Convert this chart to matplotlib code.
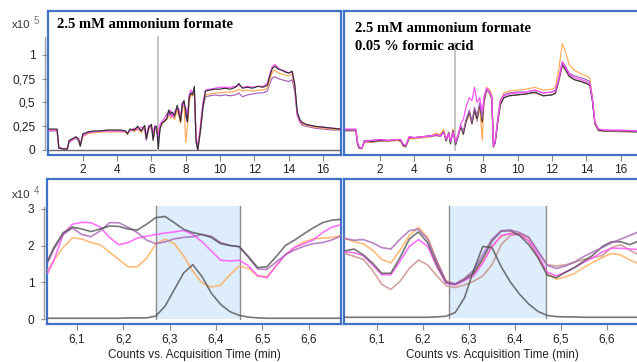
import matplotlib
matplotlib.use("Agg")
import matplotlib.pyplot as plt
from matplotlib.transforms import blended_transform_factory

# ---------------- data ----------------
# Top-left: 2.5 mM ammonium formate, TIC (x10^5 counts) vs time (min)
t_top_l = [0.0, 0.3, 0.5, 0.6, 0.9, 1.1, 1.2, 1.4, 1.6, 1.75,
           1.85, 2.0, 2.3, 2.6, 3.0, 3.4, 3.8, 4.2, 4.5, 4.6,
           4.75, 5.0, 5.2, 5.4, 5.6, 5.7, 5.85, 6.0, 6.1, 6.2,
           6.3, 6.4, 6.5, 6.6, 6.75, 6.9, 7.0, 7.1, 7.2, 7.35,
           7.5, 7.6, 7.7, 7.8, 7.9, 8.0, 8.1, 8.2, 8.3, 8.4,
           8.5, 8.6, 8.7, 8.85, 9.0, 9.15, 9.4, 9.7, 10.0, 10.3,
           10.6, 10.9, 11.1, 11.3, 11.6, 11.9, 12.2, 12.5, 12.75, 12.9,
           13.05, 13.2, 13.4, 13.6, 13.8, 14.0, 14.2, 14.35, 14.5, 14.65,
           14.8, 15.0, 15.5, 16.0, 16.5, 17.0]
tl_black = [0.22, 0.22, 0.22, 0.02, 0.01, 0.01, 0.10, 0.12, 0.14, 0.11,
            0.04, 0.17, 0.19, 0.20, 0.20, 0.21, 0.21, 0.21, 0.20, 0.17,
            0.22, 0.21, 0.25, 0.20, 0.26, 0.12, 0.24, 0.27, 0.10, 0.24,
            0.25, 0.01, 0.22, 0.28, 0.30, 0.33, 0.42, 0.38, 0.40, 0.36,
            0.47, 0.38, 0.30, 0.48, 0.52, 0.40, 0.30, 0.55, 0.60, 0.58,
            0.67, 0.10, 0.00, 0.20, 0.45, 0.62, 0.63, 0.64, 0.64, 0.65,
            0.64, 0.66, 0.70, 0.65, 0.66, 0.65, 0.67, 0.66, 0.68, 0.78,
            0.86, 0.88, 0.85, 0.84, 0.82, 0.81, 0.83, 0.70, 0.40, 0.32,
            0.29, 0.27, 0.25, 0.24, 0.23, 0.22]
tl_magenta = [0.21, 0.21, 0.21, 0.03, 0.01, 0.02, 0.08, 0.11, 0.13, 0.12,
              0.06, 0.15, 0.18, 0.19, 0.20, 0.20, 0.20, 0.20, 0.19, 0.18,
              0.20, 0.23, 0.21, 0.24, 0.22, 0.16, 0.26, 0.22, 0.18, 0.26,
              0.20, 0.15, 0.27, 0.30, 0.33, 0.38, 0.36, 0.42, 0.35, 0.40,
              0.45, 0.43, 0.35, 0.50, 0.47, 0.45, 0.35, 0.58, 0.63, 0.60,
              0.64, 0.15, 0.02, 0.25, 0.50, 0.63, 0.64, 0.65, 0.66, 0.66,
              0.66, 0.67, 0.68, 0.66, 0.67, 0.66, 0.67, 0.67, 0.70, 0.80,
              0.88, 0.90, 0.86, 0.84, 0.83, 0.81, 0.82, 0.68, 0.38, 0.30,
              0.28, 0.27, 0.25, 0.24, 0.23, 0.22]
tl_orange = [0.21, 0.21, 0.21, 0.02, 0.01, 0.01, 0.09, 0.10, 0.13, 0.11,
             0.05, 0.14, 0.17, 0.18, 0.19, 0.19, 0.19, 0.19, 0.19, 0.16,
             0.21, 0.19, 0.23, 0.18, 0.25, 0.14, 0.22, 0.25, 0.15, 0.21,
             0.23, 0.18, 0.24, 0.27, 0.30, 0.32, 0.37, 0.33, 0.36, 0.32,
             0.42, 0.36, 0.28, 0.44, 0.48, 0.08, 0.25, 0.50, 0.58, 0.57,
             0.62, 0.12, 0.01, 0.22, 0.48, 0.58, 0.59, 0.60, 0.60, 0.61,
             0.61, 0.62, 0.64, 0.62, 0.63, 0.62, 0.63, 0.63, 0.65, 0.74,
             0.82, 0.84, 0.81, 0.80, 0.79, 0.78, 0.80, 0.66, 0.38, 0.30,
             0.27, 0.26, 0.24, 0.23, 0.22, 0.21]
tl_purple = [0.20, 0.20, 0.20, 0.02, 0.01, 0.01, 0.09, 0.11, 0.12, 0.10,
             0.04, 0.15, 0.18, 0.19, 0.19, 0.20, 0.20, 0.20, 0.19, 0.17,
             0.21, 0.20, 0.24, 0.19, 0.23, 0.10, 0.23, 0.24, 0.12, 0.22,
             0.22, 0.10, 0.23, 0.27, 0.31, 0.33, 0.40, 0.36, 0.38, 0.34,
             0.44, 0.38, 0.30, 0.46, 0.50, 0.35, 0.28, 0.55, 0.58, 0.57,
             0.63, 0.08, 0.00, 0.18, 0.44, 0.56, 0.57, 0.58, 0.57, 0.58,
             0.57, 0.58, 0.60, 0.56, 0.58, 0.59, 0.60, 0.60, 0.62, 0.70,
             0.76, 0.77, 0.75, 0.74, 0.73, 0.72, 0.74, 0.62, 0.36, 0.29,
             0.26, 0.25, 0.23, 0.22, 0.21, 0.21]

# Top-right: 2.5 mM ammonium formate + 0.05 % formic acid
t_top_r = [0.0, 0.6, 0.7, 0.8, 0.95, 1.1, 1.5, 2.0, 2.5, 3.0,
           3.2, 3.35, 3.5, 3.7, 4.0, 4.5, 5.0, 5.3, 5.5, 5.7,
           5.85, 6.0, 6.1, 6.25, 6.4, 6.55, 6.7, 6.85, 7.0, 7.2,
           7.35, 7.5, 7.65, 7.8, 7.95, 8.05, 8.2, 8.35, 8.5, 8.6,
           8.7, 8.85, 9.0, 9.2, 9.5, 10.0, 10.5, 11.0, 11.5, 12.0,
           12.2, 12.4, 12.6, 12.75, 13.0, 13.3, 13.7, 14.0, 14.2, 14.35,
           14.5, 14.7, 15.0, 16.0, 17.0]
tr_black = [0.21, 0.21, 0.06, 0.02, 0.02, 0.10, 0.09, 0.10, 0.10, 0.11,
            0.10, 0.05, 0.04, 0.13, 0.13, 0.14, 0.15, 0.16, 0.15, 0.19,
            0.10, 0.18, 0.07, 0.20, 0.06, 0.15, 0.25, 0.17, 0.30, 0.40,
            0.28, 0.42, 0.33, 0.48, 0.30, 0.52, 0.64, 0.62, 0.55, 0.04,
            0.08, 0.30, 0.48, 0.55, 0.57, 0.58, 0.59, 0.61, 0.57, 0.58,
            0.60, 0.74, 0.90, 0.86, 0.78, 0.74, 0.72, 0.70, 0.68, 0.52,
            0.28, 0.21, 0.20, 0.20, 0.19]
tr_magenta = [0.22, 0.22, 0.08, 0.03, 0.02, 0.09, 0.10, 0.11, 0.10, 0.11,
              0.11, 0.06, 0.05, 0.14, 0.13, 0.14, 0.15, 0.16, 0.15, 0.18,
              0.12, 0.17, 0.10, 0.18, 0.09, 0.16, 0.28, 0.32, 0.45, 0.55,
              0.52, 0.66, 0.50, 0.55, 0.40, 0.56, 0.65, 0.62, 0.56, 0.05,
              0.10, 0.32, 0.52, 0.57, 0.59, 0.60, 0.61, 0.63, 0.60, 0.61,
              0.62, 0.75, 0.92, 0.88, 0.80, 0.76, 0.74, 0.72, 0.70, 0.54,
              0.29, 0.22, 0.21, 0.21, 0.20]
tr_orange = [0.21, 0.21, 0.06, 0.02, 0.02, 0.09, 0.09, 0.10, 0.10, 0.10,
             0.10, 0.06, 0.04, 0.12, 0.12, 0.13, 0.15, 0.18, 0.16, 0.22,
             0.12, 0.17, 0.09, 0.22, 0.08, 0.17, 0.24, 0.20, 0.30, 0.38,
             0.30, 0.40, 0.34, 0.46, 0.10, 0.50, 0.66, 0.64, 0.58, 0.05,
             0.09, 0.32, 0.52, 0.60, 0.62, 0.63, 0.64, 0.66, 0.63, 0.64,
             0.66, 0.85, 1.12, 1.05, 0.90, 0.84, 0.80, 0.78, 0.76, 0.56,
             0.28, 0.21, 0.20, 0.20, 0.20]
tr_purple = [0.21, 0.21, 0.07, 0.03, 0.02, 0.10, 0.10, 0.11, 0.10, 0.11,
             0.11, 0.06, 0.05, 0.14, 0.13, 0.14, 0.15, 0.16, 0.14, 0.19,
             0.11, 0.18, 0.08, 0.19, 0.07, 0.16, 0.26, 0.19, 0.32, 0.42,
             0.30, 0.45, 0.36, 0.50, 0.33, 0.55, 0.64, 0.62, 0.56, 0.03,
             0.08, 0.33, 0.52, 0.58, 0.60, 0.61, 0.61, 0.63, 0.60, 0.61,
             0.63, 0.76, 0.93, 0.89, 0.81, 0.78, 0.76, 0.74, 0.72, 0.55,
             0.29, 0.22, 0.21, 0.20, 0.20]
tr_brown = [0.20, 0.20, 0.05, 0.02, 0.01, 0.08, 0.08, 0.09, 0.09, 0.10,
            0.09, 0.04, 0.03, 0.12, 0.12, 0.13, 0.14, 0.15, 0.14, 0.20,
            0.09, 0.19, 0.06, 0.21, 0.05, 0.14, 0.24, 0.16, 0.28, 0.38,
            0.27, 0.40, 0.30, 0.45, 0.28, 0.50, 0.62, 0.60, 0.53, 0.03,
            0.07, 0.28, 0.47, 0.55, 0.57, 0.58, 0.59, 0.60, 0.57, 0.58,
            0.59, 0.72, 0.88, 0.85, 0.77, 0.74, 0.72, 0.70, 0.68, 0.52,
            0.27, 0.20, 0.20, 0.19, 0.19]

# Bottom-left: zoom 6.04-6.67 min (x10^4 counts)
t_bot_l = [6.037, 6.05, 6.07, 6.09, 6.11, 6.13, 6.15, 6.17, 6.19, 6.21,
           6.23, 6.25, 6.27, 6.29, 6.31, 6.33, 6.35, 6.37, 6.39, 6.41,
           6.43, 6.45, 6.47, 6.49, 6.51, 6.53, 6.55, 6.57, 6.59, 6.61,
           6.63, 6.65, 6.668]
bl_black = [1.60, 1.95, 2.35, 2.50, 2.45, 2.38, 2.45, 2.53, 2.52, 2.45,
            2.42, 2.58, 2.76, 2.79, 2.62, 2.44, 2.35, 2.30, 2.22, 2.05,
            2.00, 1.97, 1.70, 1.40, 1.42, 1.70, 2.00, 2.15, 2.32, 2.48,
            2.62, 2.69, 2.71]
bl_purple = [1.55, 1.90, 2.30, 2.48, 2.30, 2.24, 2.40, 2.62, 2.62, 2.50,
             2.35, 2.15, 2.05, 2.10, 2.18, 2.22, 2.24, 2.30, 2.25, 2.08,
             2.00, 1.97, 1.68, 1.36, 1.35, 1.55, 1.75, 1.88, 1.98, 2.05,
             2.08, 2.15, 2.25]
bl_magenta = [1.26, 1.60, 2.30, 2.58, 2.63, 2.62, 2.50, 2.22, 2.02, 2.08,
              2.20, 2.25, 2.30, 2.34, 2.37, 2.41, 2.30, 2.10, 1.85, 1.60,
              1.58, 1.60, 1.45, 1.18, 1.12, 1.45, 1.75, 1.95, 2.05, 2.15,
              2.35, 2.50, 2.56]
bl_orange = [1.33, 1.60, 1.95, 2.21, 2.18, 2.08, 2.02, 1.82, 1.62, 1.42,
             1.42, 1.65, 2.05, 2.17, 2.05, 1.72, 1.30, 0.98, 0.87, 0.92,
             1.20, 1.44, 1.38, 1.17, 1.15, 1.45, 1.75, 1.95, 2.10, 2.18,
             2.20, 2.22, 2.26]
bl_eic = [0.02, 0.02, 0.02, 0.02, 0.02, 0.02, 0.02, 0.02, 0.02, 0.03,
          0.03, 0.03, 0.08, 0.35, 0.80, 1.25, 1.48, 1.15, 0.70, 0.40,
          0.20, 0.10, 0.05, 0.03, 0.02, 0.02, 0.02, 0.02, 0.02, 0.02,
          0.02, 0.02, 0.02]

# Bottom-right: zoom 6.03-6.67 min (x10^4 counts)
t_bot_r = [6.03, 6.05, 6.07, 6.09, 6.11, 6.13, 6.15, 6.17, 6.19, 6.21,
           6.23, 6.25, 6.27, 6.29, 6.31, 6.33, 6.35, 6.37, 6.39, 6.41,
           6.43, 6.45, 6.47, 6.49, 6.51, 6.53, 6.55, 6.57, 6.59, 6.61,
           6.63, 6.65, 6.665]
br_purple = [2.17, 2.12, 2.14, 2.05, 1.92, 1.88, 2.15, 2.38, 2.42, 2.15,
             1.55, 1.00, 0.93, 1.08, 1.30, 1.72, 2.15, 2.38, 2.40, 2.33,
             2.20, 1.82, 1.44, 1.35, 1.42, 1.53, 1.68, 1.80, 1.92, 2.05,
             2.15, 2.25, 2.33]
br_orange = [2.17, 2.08, 2.02, 1.85, 1.60, 1.50, 1.85, 2.25, 2.47, 2.20,
             1.55, 1.02, 0.92, 1.05, 1.22, 1.55, 1.95, 2.22, 2.31, 2.30,
             2.10, 1.65, 1.22, 1.06, 1.12, 1.22, 1.38, 1.52, 1.65, 1.76,
             1.72, 1.58, 1.50]
br_black = [1.83, 1.88, 1.72, 1.50, 1.22, 1.22, 1.65, 2.15, 2.35, 2.05,
            1.45, 0.97, 0.92, 1.05, 1.22, 1.62, 2.10, 2.37, 2.38, 2.25,
            2.00, 1.65, 1.17, 1.10, 1.25, 1.38, 1.55, 1.72, 1.95, 2.08,
            2.08, 2.00, 2.08]
br_magenta = [1.80, 1.78, 1.70, 1.45, 1.18, 1.18, 1.55, 1.95, 2.14, 1.95,
              1.40, 0.95, 0.90, 1.02, 1.15, 1.50, 1.95, 2.25, 2.30, 2.27,
              2.10, 1.72, 1.25, 1.15, 1.25, 1.38, 1.52, 1.65, 1.80, 1.90,
              1.90, 1.88, 1.87]
br_brown = [1.76, 1.68, 1.60, 1.30, 0.92, 0.78, 1.00, 1.35, 1.58, 1.45,
            1.15, 0.88, 0.83, 0.90, 1.00, 1.15, 1.45, 2.00, 2.25, 2.30,
            2.20, 1.82, 1.45, 1.42, 1.45, 1.52, 1.60, 1.65, 1.70, 1.92,
            2.00, 1.85, 1.75]
br_eic = [0.02, 0.02, 0.02, 0.02, 0.02, 0.02, 0.02, 0.02, 0.02, 0.02,
          0.03, 0.05, 0.15, 0.55, 1.30, 1.95, 1.92, 1.40, 0.98, 0.65,
          0.38, 0.18, 0.07, 0.04, 0.03, 0.03, 0.02, 0.02, 0.02, 0.02,
          0.02, 0.02, 0.02]

# integration windows (min) and marker lines
win_l = (6.271, 6.452)
win_r = (6.257, 6.467)
marker_l = 6.40
marker_r = 6.38

top_xticks = [2, 4, 6, 8, 10, 12, 14, 16]
top_yticks = [0, 0.25, 0.5, 0.75, 1]
top_ylabels = ["0", "0,25", "0,5", "0,75", "1"]
bot_xticks = [6.1, 6.2, 6.3, 6.4, 6.5, 6.6]
bot_xlabels = ["6,1", "6,2", "6,3", "6,4", "6,5", "6,6"]
bot_yticks = [0, 1, 2, 3]
title_1 = "2.5 mM ammonium formate"
title_2 = "0.05 % formic acid"
xlabel = "Counts vs. Acquisition Time (min)"

# ---------------- style ----------------
C_BLACK = "#505050"
C_MAG = "#ff4cff"
C_ORA = "#ffaa55"
C_PUR = "#a462b6"
C_BRN = "#c48c82"
C_FRAME = "#4272c8"
C_TICK = "#8a8a8a"
SANS = "Liberation Sans"

W, H = 637, 362
fig = plt.figure(figsize=(W / 100, H / 100), dpi=100)


def add_ax(l, t, r, b):
    return fig.add_axes([l / W, 1 - b / H, (r - l) / W, (b - t) / H])


def style(ax):
    for s in ax.spines.values():
        s.set_color(C_FRAME)
        s.set_linewidth(1.6)
    ax.tick_params(axis="both", which="both", direction="out", length=4,
                   color=C_TICK, width=0.8, labelsize=8.6, labelcolor="#222222",
                   pad=2.5)
    for lab in ax.get_xticklabels() + ax.get_yticklabels():
        lab.set_fontfamily(SANS)


def gray_axis(ax, y0, y1):
    tr = blended_transform_factory(ax.transAxes, ax.transData)
    ax.plot([-0.011, -0.011], [y0, y1], color="#a0a0a0", lw=1.0,
            transform=tr, clip_on=False)


# ---- top-left ----
ax1 = add_ax(48, 11, 341, 155)
ax1.set_xlim(-0.03, 17.05)
ax1.set_ylim(-0.053, 1.463)
ax1.axhline(0, color="#6a6a6a", lw=1.0, zorder=1)
ax1.plot([marker_l, marker_l], [0, 1.19], color="#c4c4c4", lw=1.4, zorder=1)
ax1.plot(t_top_l, tl_purple, color=C_PUR, lw=0.85, zorder=2)
ax1.plot(t_top_l, tl_orange, color=C_ORA, lw=0.85, zorder=2)
ax1.plot(t_top_l, tl_magenta, color=C_MAG, lw=0.85, zorder=3)
ax1.plot(t_top_l, tl_black, color="#303030", lw=0.85, zorder=4)
ax1.set_xticks(top_xticks)
ax1.set_xticklabels([str(v) for v in top_xticks])
ax1.set_yticks(top_yticks)
ax1.set_yticklabels(top_ylabels)
style(ax1)
ax1.tick_params(axis="y", pad=5)
gray_axis(ax1, 0, 1.19)
ax1.text(0.03, 0.905, title_1, transform=ax1.transAxes, fontsize=10.5,
         fontweight="bold", family="Liberation Serif", va="center", ha="left")

# ---- top-right ----
ax2 = add_ax(344, 11, 640, 155)
ax2.set_xlim(-0.09, 17.12)
ax2.set_ylim(-0.053, 1.463)
ax2.plot([marker_r, marker_r], [0, 1.13], color="#c4c4c4", lw=1.4, zorder=1)
ax2.plot(t_top_r, tr_brown, color=C_BRN, lw=0.85, zorder=2)
ax2.plot(t_top_r, tr_orange, color=C_ORA, lw=0.85, zorder=2)
ax2.plot(t_top_r, tr_black, color="#303030", lw=0.85, zorder=3)
ax2.plot(t_top_r, tr_purple, color=C_PUR, lw=0.85, zorder=3)
ax2.plot(t_top_r, tr_magenta, color=C_MAG, lw=0.85, zorder=3)
ax2.set_xticks(top_xticks)
ax2.set_xticklabels([str(v) for v in top_xticks])
ax2.set_yticks([])
style(ax2)
ax2.text(0.037, 0.88, title_1, transform=ax2.transAxes, fontsize=10.5,
         fontweight="bold", family="Liberation Serif", va="center", ha="left")
ax2.text(0.037, 0.755, title_2, transform=ax2.transAxes, fontsize=10.5,
         fontweight="bold", family="Liberation Serif", va="center", ha="left")

# ---- bottom-left ----
ax3 = add_ax(47, 179, 341, 324)
ax3.set_xlim(6.035, 6.670)
ax3.set_ylim(-0.136, 3.81)
ax3.axvspan(win_l[0], win_l[1], ymin=0.136 / 3.946, ymax=(0.136 + 3.08) / 3.946,
            color="#deedfc", lw=0, zorder=0)
for xv in win_l:
    ax3.plot([xv, xv], [0, 3.08], color="#8c8c8c", lw=1.0, zorder=1)
for vals, col in [(bl_orange, C_ORA), (bl_magenta, C_MAG), (bl_purple, C_PUR),
                  (bl_black, C_BLACK), (bl_eic, C_BLACK)]:
    ax3.plot(t_bot_l, vals, color=col, lw=1.2, alpha=0.78, zorder=3)
ax3.set_xticks(bot_xticks)
ax3.set_xticklabels(bot_xlabels)
ax3.set_yticks(bot_yticks)
ax3.set_yticklabels([str(v) for v in bot_yticks])
style(ax3)
ax3.tick_params(axis="y", pad=5)
gray_axis(ax3, 0, 3.05)
ax3.set_xlabel(xlabel, fontsize=8.4, family=SANS, color="#222222", labelpad=3)

# ---- bottom-right ----
ax4 = add_ax(344, 179, 640, 324)
ax4.set_xlim(6.028, 6.672)
ax4.set_ylim(-0.163, 3.79)
ax4.axvspan(win_r[0], win_r[1], ymin=0.163 / 3.953, ymax=(0.163 + 3.05) / 3.953,
            color="#deedfc", lw=0, zorder=0)
for xv in win_r:
    ax4.plot([xv, xv], [0, 3.05], color="#8c8c8c", lw=1.0, zorder=1)
for vals, col in [(br_brown, C_BRN), (br_orange, C_ORA), (br_magenta, C_MAG),
                  (br_black, C_BLACK), (br_purple, C_PUR), (br_eic, C_BLACK)]:
    ax4.plot(t_bot_r, vals, color=col, lw=1.2, alpha=0.78, zorder=3)
ax4.set_xticks(bot_xticks)
ax4.set_xticklabels(bot_xlabels)
ax4.set_yticks([])
style(ax4)
ax4.set_xlabel(xlabel, fontsize=8.4, family=SANS, color="#222222", labelpad=3)

# exponent labels
fig.text(12 / W, 1 - 25 / H, "x10", fontsize=8.2, family=SANS, color="#333333",
         va="center", ha="left")
fig.text(34 / W, 1 - 21 / H, "5", fontsize=7, family=SANS, color="#777777",
         va="center", ha="left")
fig.text(12 / W, 1 - 195 / H, "x10", fontsize=8.2, family=SANS, color="#333333",
         va="center", ha="left")
fig.text(34 / W, 1 - 191 / H, "4", fontsize=7, family=SANS, color="#777777",
         va="center", ha="left")

fig.savefig("out.png", dpi=100)
